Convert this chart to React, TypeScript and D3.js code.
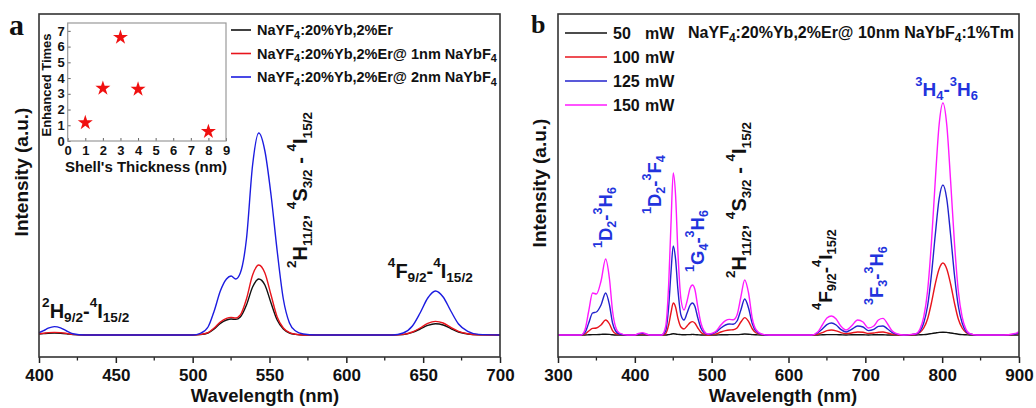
import React, { useEffect, useRef } from "react";
import * as d3 from "d3";

type Seg = [string, "n" | "u" | "d"];

const FONT = "'Liberation Sans', Arial, sans-serif";

// ---- panel a: NaYF4:Yb,Er core / core-shell spectra ----
const waveA = [
  400, 403, 406, 410, 414, 418, 422, 430,
  500, 505, 510, 514, 518, 522, 525, 528, 531, 535, 539, 543, 547, 551, 555, 559, 563, 567, 572, 580,
  630, 637, 643, 648, 653, 658, 663, 668, 673, 679, 686, 700,
];
const coreA = [
  0.5, 0.7, 0.9, 1, 0.9, 0.6, 0.2, 0,
  0, 0.2, 1, 3, 5.8, 7.5, 8, 7.8, 9, 15, 24, 28, 25, 16, 7.5, 3, 1, 0.3, 0, 0,
  0, 0.2, 1.3, 3, 4.8, 5.6, 5, 3.2, 1.5, 0.5, 0.1, 0,
];
const shell1A = [
  0.6, 0.9, 1.2, 1.3, 1.2, 0.8, 0.3, 0,
  0, 0.3, 1.2, 3.5, 6.5, 8.3, 8.8, 8.5, 10, 18, 30, 35, 31, 20, 9, 3.5, 1.2, 0.4, 0, 0,
  0, 0.3, 1.5, 3.5, 5.8, 6.8, 6, 3.8, 1.8, 0.6, 0.1, 0,
];
const shell2A = [
  1.2, 2.2, 3.4, 4.2, 3.6, 2, 0.6, 0,
  0, 0.8, 4, 12, 22, 28, 29.5, 28, 31, 48, 85, 101, 92, 70, 42, 18, 6, 2, 0.5, 0,
  0, 1, 4.5, 11, 18.5, 22, 19, 12, 5.5, 1.8, 0.3, 0,
];
const majorA = [400, 450, 500, 550, 600, 650, 700];
const minorA = [425, 475, 525, 575, 625, 675];
const legendA: Seg[][] = [
  [["NaYF", "n"], ["4", "d"], [":20%Yb,2%Er", "n"]],
  [["NaYF", "n"], ["4", "d"], [":20%Yb,2%Er@ 1nm NaYbF", "n"], ["4", "d"]],
  [["NaYF", "n"], ["4", "d"], [":20%Yb,2%Er@ 2nm NaYbF", "n"], ["4", "d"]],
];

// inset
const thickness = [1, 2, 3, 4, 8];
const enhanced = [1.16, 3.35, 6.59, 3.29, 0.6];
const insetX = [0, 1, 2, 3, 4, 5, 6, 7, 8, 9];
const insetY = [0, 1, 2, 3, 4, 5, 6, 7];

// ---- panel b: power dependence ----
const waveB = [
  300, 330, 335, 340, 345, 350, 356, 362, 367, 371, 375, 380, 390,
  400, 405, 410, 415, 420, 435,
  440, 444, 447, 450, 453, 456, 460, 464, 468, 472, 475, 478, 482, 486, 490, 495,
  500, 506, 512, 518, 523, 528, 533, 538, 543, 548, 553, 558, 565, 575,
  630, 638, 644, 650, 656, 662, 668, 675, 682, 690, 697, 704, 711, 717, 723, 729, 735, 742, 750,
  760, 766, 771, 776, 781, 786, 791, 796, 801, 806, 811, 816, 821, 826, 831, 836, 845,
  880, 893, 900,
];
const p50 = [
  0, 0, 0, 0.1, 0.2, 0.2, 0.3, 0.4, 0.3, 0.1, 0, 0, 0,
  0, 0, 0, 0, 0, 0,
  0, 0.2, 0.4, 0.6, 0.5, 0.3, 0.2, 0.1, 0.2, 0.2, 0.3, 0.2, 0.1, 0, 0, 0,
  0, 0, 0.1, 0.1, 0.2, 0.2, 0.2, 0.3, 0.5, 0.4, 0.2, 0.1, 0, 0,
  0, 0, 0.1, 0.2, 0.2, 0.2, 0.1, 0, 0.1, 0.1, 0.1, 0, 0.1, 0.1, 0.1, 0, 0, 0, 0,
  0, 0, 0.1, 0.2, 0.4, 0.7, 1, 1.3, 1.4, 1.3, 1, 0.7, 0.4, 0.2, 0.1, 0, 0,
  0, 0, 0,
];
const p100 = [
  0, 0, 0.4, 2, 3.3, 3.5, 5, 7.5, 5.5, 2.2, 0.7, 0.2, 0,
  0, 0.3, 0.5, 0.2, 0, 0,
  0.7, 5, 11, 16, 14, 8.5, 4, 3, 4.5, 6.2, 6.7, 6, 3.5, 1.4, 0.4, 0,
  0.2, 0.6, 1.5, 2.2, 2.5, 2.6, 3.5, 6.5, 8.7, 6.8, 3, 1, 0.2, 0,
  0, 0.4, 1.2, 2.2, 2.5, 2.1, 1.2, 0.7, 1, 1.5, 1.4, 0.8, 1, 1.4, 1.5, 1, 0.4, 0.1, 0,
  0.1, 0.4, 1.3, 3.5, 8, 16, 25.5, 33, 36, 33, 25.5, 16, 8, 3.5, 1.3, 0.4, 0,
  0, 0.2, 0.5,
];
const p125 = [
  0, 0, 1.2, 6, 11, 11.5, 15, 21, 15, 6, 2, 0.5, 0,
  0, 0.5, 0.8, 0.3, 0, 0,
  2, 14, 31, 44.5, 38, 23, 10, 7.5, 11, 15, 16, 14.5, 8.5, 3.5, 1.2, 0.3,
  0.5, 1.5, 3.5, 5, 5.5, 5.4, 7, 12.5, 18, 13.5, 5.5, 1.8, 0.3, 0,
  0, 1, 3, 5.2, 6, 5, 2.8, 1.5, 2.8, 4.5, 4, 2.2, 2.8, 4.3, 4.5, 3, 1.2, 0.3, 0,
  0.2, 0.5, 1.8, 6, 14.5, 30, 50, 68, 75, 68, 50, 30, 14.5, 6, 1.8, 0.5, 0,
  0, 0.3, 0.8,
];
const p150 = [
  0, 0, 2.5, 12, 21, 20.5, 27, 38, 28, 12, 4, 1, 0,
  0, 0.8, 1.2, 0.5, 0, 0,
  4, 25, 55, 81, 70, 42, 18, 12.5, 17, 23.5, 25, 23, 14, 6, 2, 0.5,
  0.8, 2, 5, 7.2, 7.8, 7.6, 10, 19, 27.5, 21, 8, 2.5, 0.5, 0,
  0, 1.5, 5, 8.5, 9.5, 8, 4.5, 2.5, 4.5, 7.5, 6.5, 3.5, 4.5, 7.5, 8.3, 5.5, 2, 0.5, 0,
  0.3, 0.7, 2.8, 9, 22, 46, 77, 105, 116, 105, 77, 46, 22, 9, 2.8, 0.7, 0,
  0, 0.6, 1.5,
];
const powers = ["50", "100", "125", "150"];
const majorB = [300, 400, 500, 600, 700, 800, 900];
const minorB = [350, 450, 550, 650, 750, 850];
const titleB: Seg[] = [
  ["NaYF", "n"], ["4", "d"], [":20%Yb,2%Er@ 10nm NaYbF", "n"], ["4", "d"], [":1%Tm", "n"],
];

// transition labels, anchored at (wavelength, intensity)
const greenLabel: Seg[] = [
  ["2", "u"], ["H", "n"], ["11/2", "d"], [", ", "n"], ["4", "u"], ["S", "n"], ["3/2", "d"],
  [" - ", "n"], ["4", "u"], ["I", "n"], ["15/2", "d"],
];
const redLabel: Seg[] = [["4", "u"], ["F", "n"], ["9/2", "d"], ["-", "n"], ["4", "u"], ["I", "n"], ["15/2", "d"]];
const blueLabel: Seg[] = [["2", "u"], ["H", "n"], ["9/2", "d"], ["-", "n"], ["4", "u"], ["I", "n"], ["15/2", "d"]];

const labelsA = [
  { segs: blueLabel, w: 402, v: 8.5, rot: false, color: "#111" },
  { segs: redLabel, w: 627, v: 28.5, rot: false, color: "#111" },
  { segs: greenLabel, w: 574.5, v: 33.5, rot: true, color: "#111" },
];
const labelsB = [
  { segs: [["1", "u"], ["D", "n"], ["2", "d"], ["-", "n"], ["3", "u"], ["H", "n"], ["6", "d"]] as Seg[], w: 370, v: 43.5, rot: true, color: "#2233dd", fs: 18.5 },
  { segs: [["1", "u"], ["D", "n"], ["2", "d"], ["-", "n"], ["3", "u"], ["F", "n"], ["4", "d"]] as Seg[], w: 434, v: 60.5, rot: true, color: "#2233dd", fs: 18.5 },
  { segs: [["1", "u"], ["G", "n"], ["4", "d"], ["-", "n"], ["3", "u"], ["H", "n"], ["6", "d"]] as Seg[], w: 490, v: 31.5, rot: true, color: "#2233dd", fs: 18.5 },
  { segs: greenLabel, w: 545, v: 28.5, rot: true, color: "#111", fs: 20 },
  { segs: redLabel, w: 656.5, v: 12.5, rot: true, color: "#111", fs: 19 },
  { segs: [["3", "u"], ["F", "n"], ["3", "d"], ["-", "n"], ["3", "u"], ["H", "n"], ["6", "d"]] as Seg[], w: 723, v: 15, rot: true, color: "#2233dd", fs: 18.5 },
  { segs: [["3", "u"], ["H", "n"], ["4", "d"], ["-", "n"], ["3", "u"], ["H", "n"], ["6", "d"]] as Seg[], w: 765, v: 119.5, rot: false, color: "#2233dd", fs: 19 },
];

const BLACK = "#111111";
const RED = "#e8141c";
const BLUE = "#1c1ce0";
const MAGENTA = "#ff1aff";

function addRich(t: any, segs: Seg[], fs: number, small = 0.68, up = 0.55, down = 0.22) {
  let cur = 0;
  segs.forEach(([s, k]) => {
    const off = k === "u" ? -up * fs : k === "d" ? down * fs : 0;
    t.append("tspan")
      .attr("dy", off - cur)
      .attr("font-size", k === "n" ? fs : fs * small)
      .text(s);
    cur = off;
  });
}

function App() {
  const ref = useRef<SVGSVGElement>(null);

  useEffect(() => {
    drawChart();
  }, []);

  function drawFrame(svg: any, x: any, y: any, majors: number[], minors: number[], titleX: number, yTitleX: number, yTitleY: number) {
    const [l, r] = x.range();
    const [b, t] = y.range();
    const axis = svg
      .append("g")
      .attr("transform", `translate(0,${b})`)
      .call(d3.axisBottom(x).tickValues(majors).tickSize(6).tickPadding(6).tickSizeOuter(0).tickFormat(d3.format("d")));
    axis.select(".domain").remove();
    axis.selectAll("line").attr("stroke", "#222").attr("stroke-width", 1.5);
    axis
      .selectAll("text")
      .attr("font-size", 17)
      .attr("font-weight", "bold")
      .attr("font-family", FONT)
      .attr("fill", "#111");
    svg
      .selectAll(null)
      .data(minors)
      .enter()
      .append("line")
      .attr("x1", (d: number) => x(d))
      .attr("x2", (d: number) => x(d))
      .attr("y1", b)
      .attr("y2", b + 3.5)
      .attr("stroke", "#222")
      .attr("stroke-width", 1.3);
    svg
      .append("rect")
      .attr("x", l)
      .attr("y", t)
      .attr("width", r - l)
      .attr("height", b - t)
      .attr("fill", "none")
      .attr("stroke", "#333")
      .attr("stroke-width", 1.6);
    svg
      .append("text")
      .attr("x", titleX)
      .attr("y", 402)
      .attr("text-anchor", "middle")
      .attr("font-size", 18.5)
      .attr("font-weight", "bold")
      .attr("font-family", FONT)
      .attr("fill", "#111")
      .text("Wavelength (nm)");
    svg
      .append("text")
      .attr("transform", `translate(${yTitleX},${yTitleY}) rotate(-90)`)
      .attr("text-anchor", "middle")
      .attr("font-size", 19)
      .attr("font-weight", "bold")
      .attr("font-family", FONT)
      .attr("fill", "#111")
      .text("Intensity (a.u.)");
  }

  function drawLines(svg: any, x: any, y: any, waves: number[], series: { v: number[]; c: string }[]) {
    const line = d3
      .line<number>()
      .x((_, i) => x(waves[i]))
      .y((d) => y(d))
      .curve(d3.curveMonotoneX);
    series.forEach((s) => {
      svg.append("path").attr("d", line(s.v)).attr("fill", "none").attr("stroke", s.c).attr("stroke-width", 1.4);
    });
  }

  function drawLabels(svg: any, x: any, y: any, labels: any[], defaultFs: number) {
    labels.forEach((lab) => {
      const px = x(lab.w);
      const py = y(lab.v);
      const t = svg
        .append("text")
        .attr("x", px)
        .attr("y", py)
        .attr("font-weight", "bold")
        .attr("font-family", FONT)
        .attr("fill", lab.color)
        .style("white-space", "pre");
      if (lab.rot) t.attr("transform", `rotate(-90,${px},${py})`);
      addRich(t, lab.segs, lab.fs || defaultFs);
    });
  }

  function drawChart() {
    const svg = d3.select(ref.current);
    svg.selectAll("*").remove();

    // ---------- panel a ----------
    const xA = d3.scaleLinear().domain([400, 700]).range([39, 500]);
    const yA = d3.scaleLinear().domain([-11, 160.5]).range([357, 14]);
    drawLines(svg, xA, yA, waveA, [
      { v: coreA, c: BLACK },
      { v: shell1A, c: RED },
      { v: shell2A, c: BLUE },
    ]);
    drawFrame(svg, xA, yA, majorA, minorA, 265, 28, 172);
    drawLabels(svg, xA, yA, labelsA, 20);

    const legColorsA = [BLACK, RED, BLUE];
    legendA.forEach((segs, i) => {
      const ly = 30 + i * 23.5;
      svg.append("line").attr("x1", 231).attr("x2", 251).attr("y1", ly).attr("y2", ly).attr("stroke", legColorsA[i]).attr("stroke-width", 1.6);
      const t = svg
        .append("text")
        .attr("x", 257)
        .attr("y", ly + 5)
        .attr("font-size", 14.5)
        .attr("font-weight", "bold")
        .attr("font-family", FONT)
        .attr("fill", "#111")
        .style("white-space", "pre");
      addRich(t, segs, 14.5, 0.75, 0.4, 0.25);
    });

    // inset
    const xi = d3.scaleLinear().domain([0, 9]).range([67.7, 226]);
    const yi = d3.scaleLinear().domain([0, 7.5]).range([141, 23]);
    const ins = svg.append("g");
    const ax = ins
      .append("g")
      .attr("transform", "translate(0,141)")
      .call(d3.axisBottom(xi).tickValues(insetX).tickSize(-3).tickPadding(5).tickSizeOuter(0));
    const ay = ins
      .append("g")
      .attr("transform", "translate(67.7,0)")
      .call(d3.axisLeft(yi).tickValues(insetY).tickSize(-3).tickPadding(3).tickSizeOuter(0));
    [ax, ay].forEach((a) => {
      a.select(".domain").remove();
      a.selectAll("line").attr("stroke", "#666");
      a.selectAll("text").attr("font-size", 13).attr("font-weight", "bold").attr("font-family", FONT).attr("fill", "#111");
    });
    ins
      .append("rect")
      .attr("x", 67.7)
      .attr("y", 23)
      .attr("width", 226 - 67.7)
      .attr("height", 141 - 23)
      .attr("fill", "none")
      .attr("stroke", "#999")
      .attr("stroke-width", 1.2);
    const star = d3.symbol().type(d3.symbolStar).size(70);
    ins
      .selectAll(null)
      .data(thickness)
      .enter()
      .append("path")
      .attr("d", star)
      .attr("transform", (d: number, i: number) => `translate(${xi(d)},${yi(enhanced[i])})`)
      .attr("fill", "#f01010");
    ins
      .append("text")
      .attr("x", 146)
      .attr("y", 172)
      .attr("text-anchor", "middle")
      .attr("font-size", 15)
      .attr("font-weight", "bold")
      .attr("font-family", FONT)
      .attr("fill", "#111")
      .text("Shell's Thickness (nm)");
    ins
      .append("text")
      .attr("transform", "translate(51,85) rotate(-90)")
      .attr("text-anchor", "middle")
      .attr("font-size", 13)
      .attr("font-weight", "bold")
      .attr("font-family", FONT)
      .attr("fill", "#111")
      .text("Enhanced Times");

    svg
      .append("text")
      .attr("x", 9)
      .attr("y", 35)
      .attr("font-size", 30)
      .attr("font-weight", "bold")
      .attr("font-family", "'Liberation Serif', 'Times New Roman', serif")
      .attr("fill", "#111")
      .text("a");

    // ---------- panel b ----------
    const xB = d3.scaleLinear().domain([300, 900]).range([558, 1019]);
    const yB = d3.scaleLinear().domain([-11, 160.5]).range([357, 14]);
    const colorsB = [BLACK, RED, "#2222cc", MAGENTA];
    drawLines(svg, xB, yB, waveB, [
      { v: p50, c: colorsB[0] },
      { v: p100, c: colorsB[1] },
      { v: p125, c: colorsB[2] },
      { v: p150, c: colorsB[3] },
    ]);
    drawFrame(svg, xB, yB, majorB, minorB, 783, 546, 183);
    drawLabels(svg, xB, yB, labelsB, 19);

    powers.forEach((p, i) => {
      const ly = 33 + i * 24;
      svg.append("line").attr("x1", 565).attr("x2", 607).attr("y1", ly).attr("y2", ly).attr("stroke", colorsB[i]).attr("stroke-width", 1.4);
      const g = svg
        .append("text")
        .attr("y", ly + 5.5)
        .attr("font-size", 16)
        .attr("font-weight", "bold")
        .attr("font-family", FONT)
        .attr("fill", "#111");
      g.append("tspan").attr("x", 613).text(p);
      g.append("tspan").attr("x", 645).text("mW");
    });
    const tb = svg
      .append("text")
      .attr("x", 688)
      .attr("y", 38)
      .attr("font-size", 16)
      .attr("font-weight", "bold")
      .attr("font-family", FONT)
      .attr("fill", "#111")
      .style("white-space", "pre");
    addRich(tb, titleB, 16, 0.75, 0.4, 0.25);

    svg
      .append("text")
      .attr("x", 531)
      .attr("y", 33)
      .attr("font-size", 26)
      .attr("font-weight", "bold")
      .attr("font-family", "'Liberation Serif', 'Times New Roman', serif")
      .attr("fill", "#111")
      .text("b");
  }

  return (
    <svg
      ref={ref}
      width={1036}
      height={408}
      style={{ position: "absolute", left: 0, top: 0, background: "#fff" }}
    />
  );
}

export default App;
